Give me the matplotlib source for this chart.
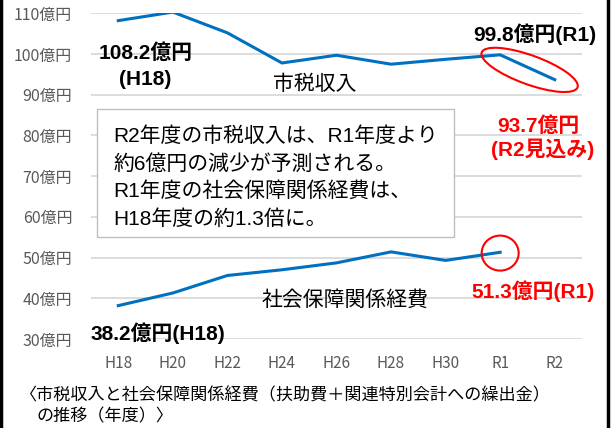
import numpy as np
import matplotlib
matplotlib.use("Agg")
import matplotlib.pyplot as plt
from matplotlib.patches import Ellipse, Rectangle
from matplotlib.lines import Line2D
from matplotlib.transforms import IdentityTransform

plt.rcParams['font.family'] = ['Noto Sans CJK JP', 'DejaVu Sans']

# データ（億円）
years = ['H18', 'H20', 'H22', 'H24', 'H26', 'H28', 'H30', 'R1', 'R2']
tax = [108.2, 110.3, 105.2, 97.8, 99.7, 97.5, 98.7, 99.8, 93.7]
social = [38.2, 41.3, 45.6, 47.0, 48.7, 51.4, 49.3, 51.3, np.nan]
yticks = [30, 40, 50, 60, 70, 80, 90, 100, 110]

blue = '#0070c0'
red = '#ff0000'
num_font = ['Liberation Sans', 'Noto Sans CJK JP']

fig = plt.figure(figsize=(6.14, 4.28), dpi=100)
ax = fig.add_axes([91 / 614, 1 - 339 / 428, 491 / 614, (339 - 13.3) / 428])

x = np.arange(len(years))
ax.plot(x, tax, color=blue, lw=2.2, solid_joinstyle='miter', zorder=3)
ax.plot(x, social, color=blue, lw=2.2, solid_joinstyle='miter', zorder=3)

ax.set_xlim(-0.5, 8.5)
ax.set_ylim(30, 110)
ax.set_xticks(x)
ax.set_xticklabels(years)
ax.set_yticks(yticks)
ax.set_yticklabels([f'{v}億円' for v in yticks])
ax.tick_params(axis='y', length=0, pad=13.5, labelsize=11.5, labelcolor='#595959')
ax.tick_params(axis='x', length=0, pad=11.5, labelsize=11, labelcolor='#595959')
ax.grid(axis='y', color='#d9d9d9', lw=1.3)
ax.set_axisbelow(True)
for s in ax.spines.values():
    s.set_visible(False)

# 説明ボックス
ax.add_patch(Rectangle((-0.385, 55.1), 6.53, 31.4, facecolor='white',
                       edgecolor='#bfbfbf', lw=1, zorder=4))
box_lines = ['R2年度の市税収入は、R1年度より', '約6億円の減少が予測される。',
             'R1年度の社会保障関係経費は、', 'H18年度の約1.3倍に。']
for i, s in enumerate(box_lines):
    ax.text(-0.09, 79.8 - i * 6.75, s, fontsize=15, family=num_font,
            ha='left', va='center', zorder=5)

# ラベル
bold = dict(fontsize=15, fontweight='bold', family=num_font, ha='center', va='center')
ax.text(0.5, 100.3, '108.2億円', **bold)
ax.text(0.5, 93.7, '(H18)', **bold)
ax.text(3.6, 92.7, '市税収入', fontsize=15, ha='center', va='center')
ax.text(7.63, 104.8, '99.8億円(R1)', **bold)
ax.text(7.7, 82.4, '93.7億円', color=red, **bold)
ax.text(7.77, 76.5, '(R2見込み)', color=red, **bold)
ax.text(4.15, 39.7, '社会保障関係経費', fontsize=15, ha='center', va='center')
ax.text(7.6, 41.8, '51.3億円(R1)', color=red, **bold)
ax.text(0.72, 31.3, '38.2億円(H18)', **bold)

# 赤丸
fig.canvas.draw()
cx, cy = ax.transData.transform((7.54, 96.1))
fig.add_artist(Ellipse((cx, cy), 102, 29, angle=-20, transform=IdentityTransform(),
                       fill=False, edgecolor=red, lw=1.5))
cx, cy = ax.transData.transform((7.0, 51.1))
fig.add_artist(Ellipse((cx, cy), 37, 35, transform=IdentityTransform(),
                       fill=False, edgecolor=red, lw=1.5))

# 注記
fig.text(20 / 614, 1 - 395 / 428, '〈市税収入と社会保障関係経費（扶助費＋関連特別会計への繰出金）',
         fontsize=12.3, ha='left', va='center')
fig.text(37 / 614, 1 - 416 / 428, 'の推移（年度）〉', fontsize=12.3, ha='left', va='center')

# 枠線
fig.add_artist(Line2D([1.5 / 614, 1.5 / 614], [0, 1], color='black', lw=2.5))
fig.add_artist(Line2D([608 / 614, 608 / 614], [0, 1], color='black', lw=2.5))

fig.savefig('out.png', dpi=100)
